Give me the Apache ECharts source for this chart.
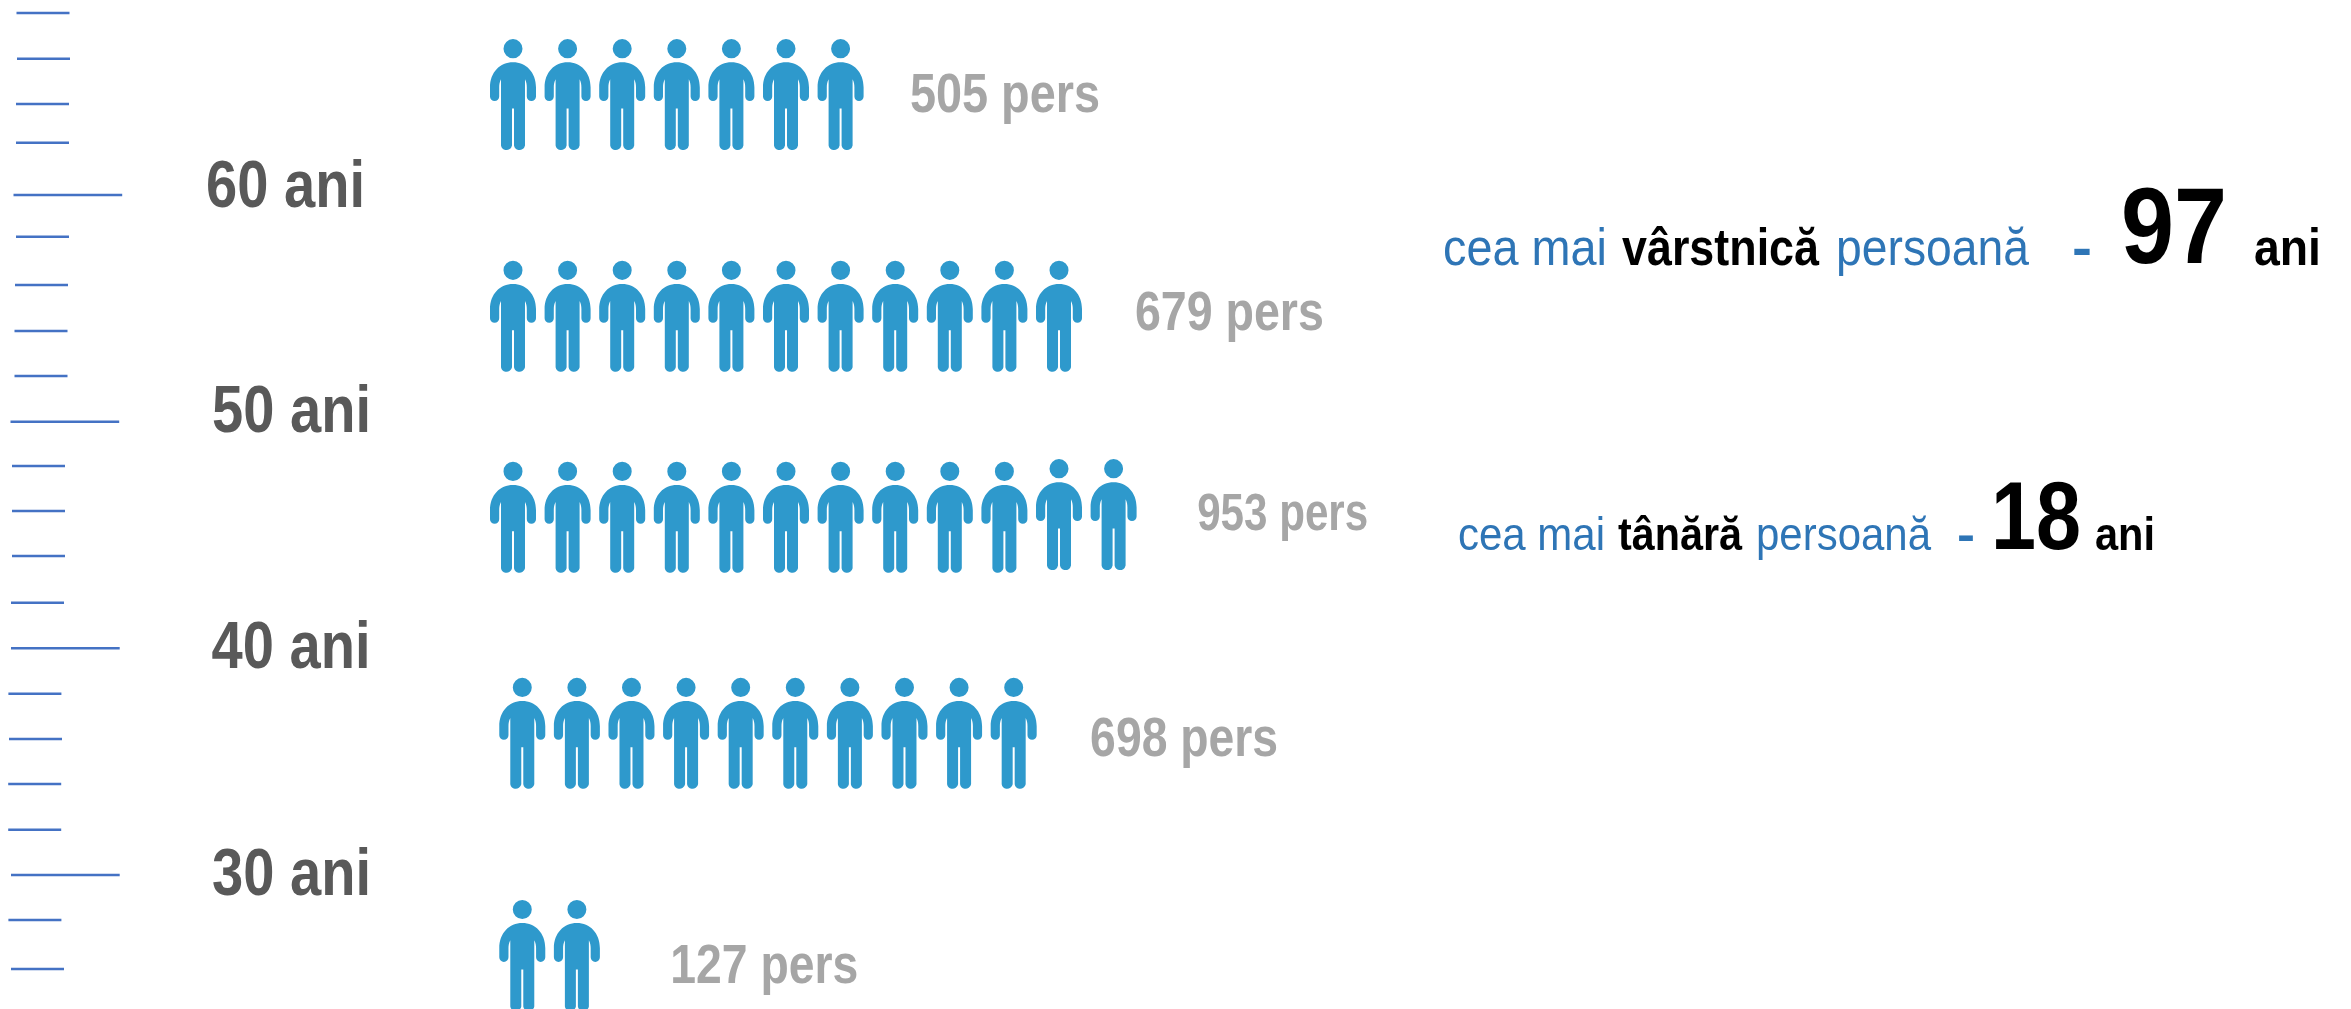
<!DOCTYPE html>
<html><head><meta charset="utf-8">
<style>html,body{margin:0;padding:0;background:#fff}#c{width:2351px;height:1009px}</style>
<script src="https://cdn.jsdelivr.net/npm/echarts@6/dist/echarts.min.js"></script>
</head><body><div id="c"></div>
<script>
// ---- data ----
const rowPersons = [505, 679, 953, 698, 127];
const rowIcons = [7, 11, 12, 10, 2];
const rowAges = [64.43, 54.65, 45.78, 36.25, 26.45];
const ageLabels = [60, 50, 40, 30];
const ageLabelAt = [60.28, 50.38, 39.96, 29.94];
const rulerAges = [68.03,66.01,64.01,62.31,60,58.16,56.03,54,52.01,50,48.04,46.06,44.07,42.01,40,38,36,34.01,32,30,28.01,25.85];
const majorAges = [60, 50, 40, 30];

// ---- layout ----
const W = 2351, H = 1009;
const pitch = 54.6, originPx = 513;
const rowIndent = [0, 0, 0, 0.17, 0.17];
const raisedIcons = { 2: [10, 11] };
const raisedBy = 0.12;
const labelCol = [7.27, 11.39, 12.53, 10.57, 2.88];
const labelRowAge = [64.34, 54.73, 45.82, 35.95, 25.93];
const labelSize = [56, 56, 51, 56, 56];
const labelWidth = [190, 189, 171, 188, 188];
const ageRightCol = [-2.71, -2.60, -2.61, -2.60];
const rulerLeftPx = [16.5,17,16,16,13.5,16,15,14.5,14.5,10.5,12,12,12,11,11,8.4,9,8.2,8.2,11,8.4,11];
const sans = '"Liberation Sans",Arial,sans-serif';

const personPath = 'path://M13.5 9.5A9.5 9.5 0 1 1 32.5 9.5A9.5 9.5 0 1 1 13.5 9.5Z' +
 'M23 23C36 23 46 33 46 48L46 57A4.6 4.6 0 0 1 36.8 57L36.8 48C36.8 45 36.4 43 35 40L35 105.75A5.6 5.6 0 0 1 24 105.75L24 69L22 69L22 105.75A5.6 5.6 0 0 1 11 105.75L11 40C9.6 43 9.2 45 9.2 48L9.2 57A4.6 4.6 0 0 1 0 57L0 48C0 33 10 23 23 23Z';

const iconData = [];
rowIcons.forEach((n, r) => {
  for (let i = 0; i < n; i++) {
    const lift = (raisedIcons[r] || []).includes(i) ? raisedBy : 0;
    iconData.push([i + rowIndent[r], rowAges[r] + lift]);
  }
});

const mctx = document.createElement('canvas').getContext('2d');
const squeeze = (text, size, weight, target) => {
  mctx.font = weight + ' ' + size + 'px "Liberation Sans"';
  return target / mctx.measureText(text).width;
};
const T = (text, x, baseY, size, color, weight, target) => ({
  type: 'text', silent: true, x, y: baseY - 0.8 * size,
  scaleX: target ? squeeze(text, size, weight, target) : 1,
  style: { text, fontFamily: sans, fontSize: size, fontWeight: weight, fill: color, align: 'left', verticalAlign: 'top' }
});
const blue = '#2e75b6', black = '#000';
const notes = [
  T('cea mai', 1443, 266, 52, blue, 'normal', 164),
  T('vârstnică', 1622, 266, 52, black, 'bold', 197),
  T('persoană', 1836, 266, 52, blue, 'normal', 193),
  T('-', 2072, 266, 52, blue, 'bold', 20),
  T('97', 2121, 266, 108, black, 'bold', 106),
  T('ani', 2254, 266, 52, black, 'bold', 67),
  T('cea mai', 1458, 551, 47, blue, 'normal', 147),
  T('tânără', 1618, 551, 47, black, 'bold', 124),
  T('persoană', 1756, 551, 47, blue, 'normal', 175),
  T('-', 1957, 551, 47, blue, 'bold', 18),
  T('18', 1991, 551, 97, black, 'bold', 90),
  T('ani', 2095, 551, 47, black, 'bold', 60)
];

const textSeries = (texts, anchor, style) => ({
  type: 'custom', silent: true, clip: false, coordinateSystem: 'cartesian2d',
  data: anchor.map((a, i) => [a[0], a[1], i]),
  renderItem: (p, api) => {
    const i = api.value(2), at = api.coord([api.value(0), api.value(1)]), s = style(i);
    return { type: 'text', x: at[0], y: at[1], scaleX: squeeze(texts[i], s.fontSize, 'bold', s.width),
      style: { text: texts[i], fontFamily: sans, fontWeight: 'bold', fontSize: s.fontSize, fill: s.fill,
               align: s.align, verticalAlign: 'middle' } };
  }
});

const chart = echarts.init(document.getElementById('c'), null, { renderer: 'canvas' });
chart.setOption({
  animation: false,
  backgroundColor: '#fff',
  grid: { left: 0, right: 0, top: 0, bottom: 0, containLabel: false },
  xAxis: { type: 'value', show: false, min: -originPx / pitch, max: (W - originPx) / pitch, splitLine: { show: false } },
  yAxis: { type: 'value', show: false, min: 60 - (H - 195) / 22.667, max: 60 + 195 / 22.667, splitLine: { show: false } },
  graphic: { elements: notes },
  series: [
    { type: 'custom', silent: true, coordinateSystem: 'cartesian2d', clip: false,
      data: rulerAges.map((a, i) => [0, a, i]),
      renderItem: (p, api) => {
        const age = api.value(1), i = api.value(2);
        const y = api.coord([0, age])[1];
        const left = rulerLeftPx[i];
        const len = majorAges.includes(age) ? 108.7 : 53;
        return { type: 'line', shape: { x1: left, y1: y, x2: left + len, y2: y },
                 style: { stroke: '#4472c4', lineWidth: 2.5 } };
      } },
    { type: 'scatter', silent: true, symbol: personPath, symbolSize: [46, 111], clip: false,
      itemStyle: { color: '#2e99cc', opacity: 1 }, data: iconData },
    textSeries(ageLabels.map(a => a + ' ani'), ageLabels.map((a, i) => [ageRightCol[i], ageLabelAt[i]]),
      () => ({ fontSize: 67, width: 159, fill: '#595959', align: 'right' })),
    textSeries(rowPersons.map(v => v + ' pers'), rowPersons.map((v, i) => [labelCol[i], labelRowAge[i]]),
      i => ({ fontSize: labelSize[i], width: labelWidth[i], fill: '#a6a6a6', align: 'left' }))
  ]
});
</script></body></html>
